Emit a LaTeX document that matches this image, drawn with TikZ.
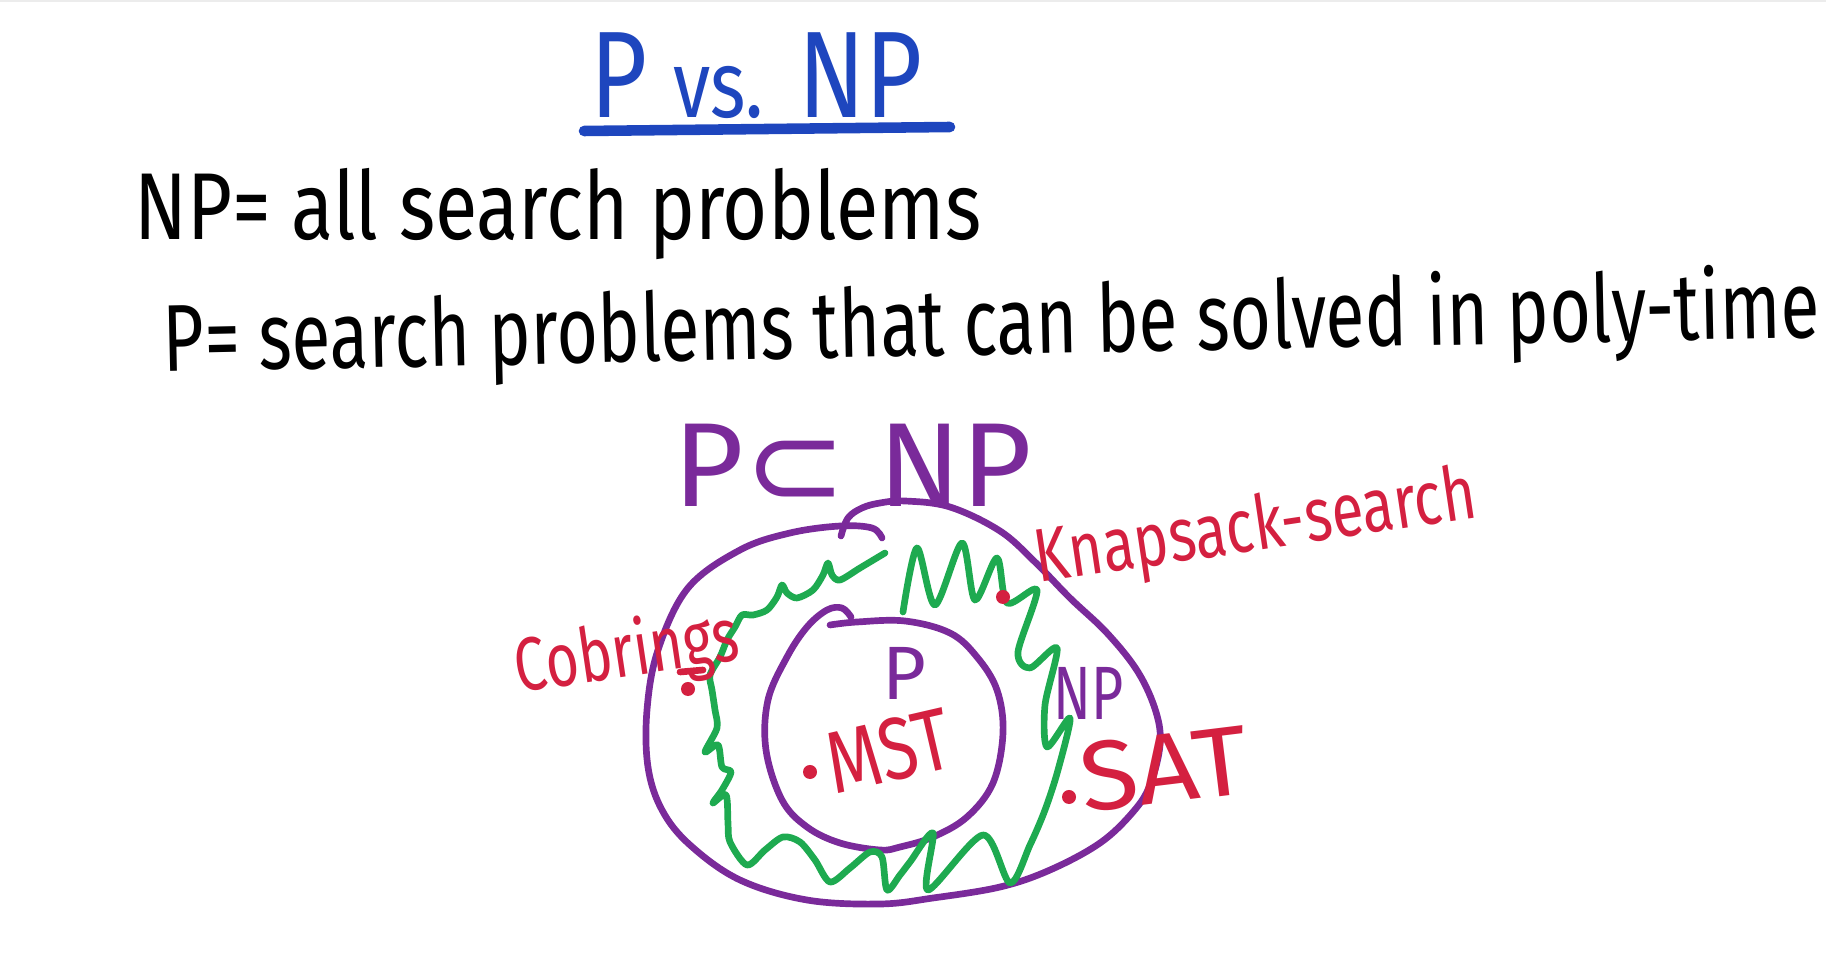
\documentclass[tikz,border=0pt]{standalone}
\usepackage{fontspec}
\usepackage{graphicx}
\setmainfont{Fira Sans}
\newfontfamily\symfont{DejaVu Sans}
\definecolor{pblue}{HTML}{1E46BE}
\definecolor{npurple}{HTML}{7A2A9A}
\definecolor{ngreen}{HTML}{1EAA50}
\definecolor{nred}{HTML}{D42040}
\newcommand\hw[3]{\resizebox{#1}{\height}{\fontsize{#2}{#2}\selectfont #3}}
\tikzset{
  txt/.style={inner sep=0pt, anchor=base west},
  purpline/.style={draw=npurple, line width=1.9pt, line cap=round, line join=round},
  greenline/.style={draw=ngreen, line width=1.9pt, line cap=round, line join=round},
  blueline/.style={draw=pblue, line width=3pt, line cap=round},
  redline/.style={draw=nred, line width=1.9pt, line cap=round},
  reddot/.style={circle, fill=nred, inner sep=0pt, minimum size=0.14cm},
}
\begin{document}
\begin{tikzpicture}[x=0.01cm,y=-0.01cm]
\useasboundingbox (0,0) rectangle (1826,958);
\fill[gray!15] (0,0) rectangle (1826,2);

% title
\node[txt, text=pblue] (title) at (590,118) {\hw{3.32cm}{35pt}{P {\fontsize{27pt}{27pt}\selectfont vs.} NP}};
\coordinate (ulA) at (584,131);
\coordinate (ulB) at (950,127);
\draw[blueline] (ulA) -- (ulB);

% definitions
\node[txt] (defnp) at (134,240) {\hw{8.46cm}{27pt}{NP= all search problems}};
\node[txt, rotate=1.2] (defp) at (163,372) {\hw{16.56cm}{27pt}{P= search problems that can be solved in poly-time}};

% P subset NP
\node[txt, text=npurple] (subset) at (673,507) {\hw{3.58cm}{34pt}{P{\symfont ⊂} NP}};

% outer NP region
\draw[purpline] plot[smooth, tension=0.6] coordinates {
(841,536) (848,518) (862,508) (880,503) (905,501) (950,507) (1000,531) (1035,562)
(1070,598) (1107,633) (1138,672) (1156,712) (1160,745) (1150,785) (1133,812) (1100,843)
(1050,870) (1000,887) (933,898) (880,904) (807,900) (740,880) (690,845) (662,810)
(648,767) (647,710) (658,650) (688,588) (740,550) (790,533) (840,526) (872,528) (882,538)};

% inner P region
\draw[purpline] plot[smooth, tension=0.6] coordinates {
(830,625) (857,622) (905,621) (950,633) (977,657) (997,690) (1003,733) (993,783)
(967,817) (933,837) (900,847) (880,850) (840,843) (807,827) (782,800) (766,750)
(768,700) (787,657) (807,627) (827,610) (842,608) (851,617)};

% green boundary
\draw[greenline] plot[smooth, tension=0.5] coordinates {
(885,553) (860,568) (840,580) (832,575) (828,563) (823,575) (813,590) (797,598)
(787,593) (782,585) (777,597) (767,610) (753,615) (742,615) (735,627) (727,640)
(720,657) (710,675) (712,690) (715,710) (717,728) (705,752) (718,745) (722,767)
(731,772) (722,790) (713,803) (726,795) (728,823) (730,842) (747,865) (765,850)
(783,837) (800,842) (815,860) (830,882) (850,868) (870,852) (882,857) (887,890)
(900,875) (910,862) (933,833) (928,890) (983,835) (1010,883) (1030,845) (1045,810)
(1058,770) (1070,718) (1047,747) (1045,705) (1057,648) (1030,668) (1018,652)
(1037,590) (1007,603) (997,558) (975,600) (962,543) (935,605) (917,548) (903,612)};

% region labels
\node[txt, text=npurple] (plabel) at (882,700) {\fontsize{21.5pt}{21.5pt}\selectfont P};
\node[txt, text=npurple] (nplabel) at (1053,720) {\hw{0.7cm}{21.5pt}{NP}};

% problems
\node[reddot] (dcob) at (688,689) {};
\coordinate (dashA) at (680,672);
\coordinate (dashB) at (703,670);
\draw[redline] (dashA) -- (dashB);
\node[txt, text=nred, rotate=8.5] (cob) at (518,693) {\hw{2.25cm}{21.5pt}{Cobrings}};

\node[reddot] (dknap) at (1003,597) {};
\node[txt, text=nred, rotate=8.5] (knap) at (1038,583) {\hw{4.45cm}{21.5pt}{Knapsack-search}};

\node[reddot] (dmst) at (810,772) {};
\node[txt, text=nred, rotate=13] (mst) at (834,795) {\hw{1.25cm}{25pt}{MST}};

\node[reddot] (dsat) at (1069,797) {};
\node[txt, text=nred, rotate=7] (sat) at (1084,813) {\hw{1.68cm}{28pt}{SAT}};
\end{tikzpicture}
\end{document}
